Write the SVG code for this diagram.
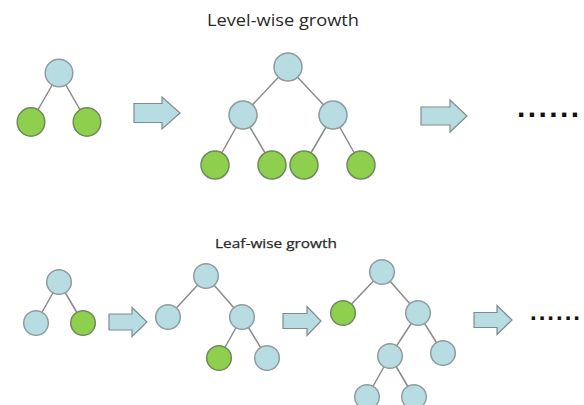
<svg xmlns="http://www.w3.org/2000/svg" width="584" height="405" viewBox="0 0 584 405">
<style>
.title{font-family:"Open Sans","Liberation Sans",sans-serif;fill:#2a2a2a;}
.blue{fill:#b7dde3;stroke:#8e9c9e;stroke-width:1.5;}
.green{fill:#8fcf4e;stroke:#6f8a5c;stroke-width:1.5;}
.edge{stroke:#8a8a8a;stroke-width:1.5;fill:none;}
.arrow{fill:#b7dde3;stroke:#7f8c8e;stroke-width:1.2;}
.dots{font-family:"Liberation Sans",Arial,sans-serif;font-weight:bold;fill:#111;}
</style>
<rect width="584" height="405" fill="#ffffff"/>
<text class="title" x="207" y="26" font-size="16" textLength="152" lengthAdjust="spacingAndGlyphs">Level-wise growth</text>
<text class="title" x="215" y="248" font-size="13" textLength="122" lengthAdjust="spacingAndGlyphs" stroke="#2a2a2a" stroke-width="0.25">Leaf-wise growth</text>
<g id="connectors">
<line class="edge" x1="59" y1="73" x2="31" y2="122"/>
<line class="edge" x1="59" y1="73" x2="87" y2="122"/>
<line class="edge" x1="288" y1="67" x2="243" y2="115"/>
<line class="edge" x1="288" y1="67" x2="333" y2="115"/>
<line class="edge" x1="243" y1="115" x2="215" y2="165"/>
<line class="edge" x1="243" y1="115" x2="272" y2="165"/>
<line class="edge" x1="333" y1="115" x2="304" y2="165"/>
<line class="edge" x1="333" y1="115" x2="361" y2="165"/>
<line class="edge" x1="59" y1="282" x2="36" y2="323"/>
<line class="edge" x1="59" y1="282" x2="83" y2="323"/>
<line class="edge" x1="206" y1="276" x2="168" y2="317"/>
<line class="edge" x1="206" y1="276" x2="242" y2="317"/>
<line class="edge" x1="242" y1="317" x2="219" y2="358"/>
<line class="edge" x1="242" y1="317" x2="267" y2="358"/>
<line class="edge" x1="382" y1="272" x2="343" y2="313"/>
<line class="edge" x1="382" y1="272" x2="418" y2="313"/>
<line class="edge" x1="418" y1="313" x2="390" y2="356"/>
<line class="edge" x1="418" y1="313" x2="443" y2="353"/>
<line class="edge" x1="390" y1="356" x2="367" y2="397"/>
<line class="edge" x1="390" y1="356" x2="414" y2="397"/>
</g>
<g id="arrows">
<polygon id="arrow1" class="arrow" points="134,103.5 162,103.5 162,97 180,113 162,129 162,122.5 134,122.5"/>
<polygon id="arrow2" class="arrow" points="421,107 450,107 450,100 467,116 450,132 450,125 421,125"/>
<polygon id="arrow3" class="arrow" points="109,314 132,314 132,307.5 147,322 132,336.5 132,330 109,330"/>
<polygon id="arrow4" class="arrow" points="283,313.5 307,313.5 307,306.5 321,321 307,335.5 307,328.5 283,328.5"/>
<polygon id="arrow5" class="arrow" points="474,312.5 497,312.5 497,305.5 512,320 497,334.5 497,327.5 474,327.5"/>
</g>
<g id="lvl-t1-root"><circle class="blue" cx="59" cy="73" r="13.8"/></g>
<g id="lvl-t1-l"><ellipse class="green" cx="31" cy="122" rx="13.8" ry="14.2"/></g>
<g id="lvl-t1-r"><ellipse class="green" cx="87" cy="122" rx="13.8" ry="14.2"/></g>
<g id="lvl-t2-root"><circle class="blue" cx="288" cy="67" r="14"/></g>
<g id="lvl-t2-ml"><circle class="blue" cx="243" cy="115" r="14"/></g>
<g id="lvl-t2-mr"><circle class="blue" cx="333" cy="115" r="14"/></g>
<g id="lvl-t2-l1"><circle class="green" cx="215" cy="165" r="14"/></g>
<g id="lvl-t2-l2"><circle class="green" cx="272" cy="165" r="14"/></g>
<g id="lvl-t2-l3"><circle class="green" cx="304" cy="165" r="14"/></g>
<g id="lvl-t2-l4"><circle class="green" cx="361" cy="165" r="14"/></g>
<g id="lvl-more"><text class="dots" x="517" y="117" font-size="30" letter-spacing="2.4">......</text></g>
<g id="leaf-t1-root"><circle class="blue" cx="59" cy="282" r="12.3"/></g>
<g id="leaf-t1-l"><circle class="blue" cx="36" cy="323" r="12.3"/></g>
<g id="leaf-t1-r"><circle class="green" cx="83" cy="323" r="12.3"/></g>
<g id="leaf-t2-root"><circle class="blue" cx="206" cy="276" r="12.3"/></g>
<g id="leaf-t2-l"><circle class="blue" cx="168" cy="317" r="12.3"/></g>
<g id="leaf-t2-r"><circle class="blue" cx="242" cy="317" r="12.3"/></g>
<g id="leaf-t2-rl"><circle class="green" cx="219" cy="358" r="12.3"/></g>
<g id="leaf-t2-rr"><circle class="blue" cx="267" cy="358" r="12.3"/></g>
<g id="leaf-t3-root"><circle class="blue" cx="382" cy="272" r="12.3"/></g>
<g id="leaf-t3-l"><circle class="green" cx="343" cy="313" r="12.3"/></g>
<g id="leaf-t3-r"><circle class="blue" cx="418" cy="313" r="12.3"/></g>
<g id="leaf-t3-rl"><circle class="blue" cx="390" cy="356" r="12.3"/></g>
<g id="leaf-t3-rr"><circle class="blue" cx="443" cy="353" r="12.3"/></g>
<g id="leaf-t3-rll"><circle class="blue" cx="367" cy="397" r="12.3"/></g>
<g id="leaf-t3-rlr"><circle class="blue" cx="414" cy="397" r="12.3"/></g>
<g id="leaf-more"><text class="dots" x="530" y="320" font-size="24" letter-spacing="2">......</text></g>
</svg>
